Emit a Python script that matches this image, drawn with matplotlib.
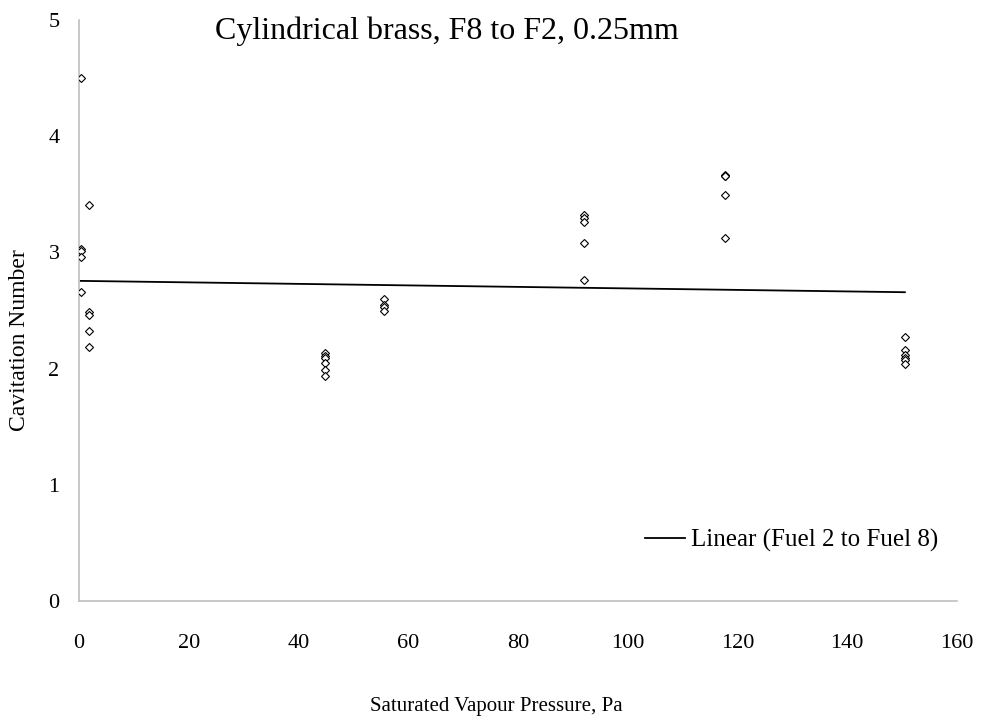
import numpy as np
import matplotlib
matplotlib.use("Agg")
import matplotlib.pyplot as plt

plt.rcParams['font.family'] = ['Liberation Serif', 'DejaVu Serif']

# Data (Saturated vapour pressure [Pa], cavitation number)
pressure = [0.3, 0.3, 0.3, 0.3, 0.3,
            1.8, 1.8, 1.8, 1.8, 1.8,
            44.8, 44.8, 44.8, 44.8, 44.8, 44.8,
            55.5, 55.5, 55.5, 55.5,
            92.0, 92.0, 92.0, 92.0, 92.0,
            117.7, 117.7, 117.7, 117.7, 117.7,
            150.5, 150.5, 150.5, 150.5, 150.5, 150.5]
cavitation = [4.50, 3.03, 3.01, 2.96, 2.66,
              3.41, 2.49, 2.46, 2.32, 2.19,
              2.13, 2.11, 2.09, 2.05, 1.99, 1.94,
              2.60, 2.55, 2.53, 2.50,
              3.32, 3.30, 3.26, 3.08, 2.76,
              3.67, 3.66, 3.66, 3.49, 3.12,
              2.27, 2.16, 2.12, 2.09, 2.07, 2.04]

title = "Cylindrical brass, F8 to F2, 0.25mm"
xlabel = "Saturated Vapour Pressure, Pa"
ylabel = "Cavitation Number"
trend_label = "Linear (Fuel 2 to Fuel 8)"
xticks = [0, 20, 40, 60, 80, 100, 120, 140, 160]
yticks = [0, 1, 2, 3, 4, 5]

x = np.array(pressure)
y = np.array(cavitation)

fig = plt.figure(figsize=(9.89, 7.23), dpi=100)
ax = fig.add_axes([79/989, 1-601/723, (957-79)/989, (601-20)/723])

ax.plot(x, y, linestyle='none', marker='D', markersize=4.3,
        markerfacecolor='white', markeredgecolor='black', markeredgewidth=0.8,
        zorder=3)

slope, intercept = np.polyfit(x, y, 1)
xt = np.array([x.min(), x.max()])
ax.plot(xt, intercept + slope*xt, color='black', linewidth=1.3, label=trend_label, zorder=2)

ax.set_xlim(0, 160)
ax.set_ylim(0, 5)
ax.set_xticks(xticks)
ax.set_yticks(yticks)
ax.tick_params(length=0, labelsize=16)
ax.tick_params(axis='y', pad=14)
ax.tick_params(axis='x', pad=24)
for s in ['top', 'right']:
    ax.spines[s].set_visible(False)
for s in ['left', 'bottom']:
    ax.spines[s].set_color('#bfbfbf')
    ax.spines[s].set_linewidth(1.2)

leg = ax.legend(loc='center right', bbox_to_anchor=(0.99, 0.52/5), frameon=False,
                fontsize=18, handlelength=1.6, handletextpad=0.25, borderaxespad=0)

fig.text(447/989, 1-31/723, title, ha='center', va='center', fontsize=23)
fig.text(496/989, 1-707/723, xlabel, ha='center', va='center', fontsize=15)
fig.text(20/989, 1-340/723, ylabel, ha='center', va='center', rotation=90, fontsize=17)

fig.savefig('out.png', dpi=100)
